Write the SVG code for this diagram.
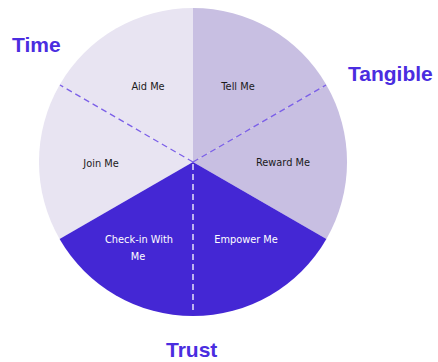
<svg xmlns="http://www.w3.org/2000/svg" width="438" height="362" viewBox="0 0 438 362">
  <style>
    .light { fill: #e8e4f2; }
    .mid { fill: #c8bfe2; }
    .dark { fill: #4427d4; }
    .lbl { font-family: "Liberation Sans", Arial, sans-serif; font-weight: bold; font-size: 21px; fill: #4a2de0; }
    .sl { font-family: "DejaVu Sans", "Liberation Sans", sans-serif; font-size: 9.8px; text-anchor: middle; }
    .sl-d { fill: #1a1a1a; }
    .sl-w { fill: #ffffff; }
    .dash-p { stroke: #7b5fe8; stroke-width: 1.3; stroke-dasharray: 6 4; fill: none; }
    .dash-w { stroke: #ffffff; stroke-width: 1.3; stroke-dasharray: 6 4; fill: none; }
  </style>
  <rect width="438" height="362" fill="#ffffff"/>
  <g id="slice-aid-me">
    <path class="light" d="M193 162 L193 8 A154 154 0 0 0 59.6 85 Z"/>
    <text class="sl sl-d" x="148" y="90">Aid Me</text>
  </g>
  <g id="slice-join-me">
    <path class="light" d="M193 162 L59.6 85 A154 154 0 0 0 59.6 239 Z"/>
    <text class="sl sl-d" x="101" y="167">Join Me</text>
  </g>
  <g id="slice-tell-me">
    <path class="mid" d="M193 162 L326.4 85 A154 154 0 0 0 193 8 Z"/>
    <text class="sl sl-d" x="238" y="90">Tell Me</text>
  </g>
  <g id="slice-reward-me">
    <path class="mid" d="M193 162 L326.4 239 A154 154 0 0 0 326.4 85 Z"/>
    <text class="sl sl-d" x="283" y="166">Reward Me</text>
  </g>
  <g id="slice-check-in">
    <path class="dark" d="M193 162 L59.6 239 A154 154 0 0 0 193 316 Z"/>
    <text class="sl sl-w" x="139" y="243">Check-in With</text>
    <text class="sl sl-w" x="138" y="260">Me</text>
  </g>
  <g id="slice-empower-me">
    <path class="dark" d="M193 162 L193 316 A154 154 0 0 0 326.4 239 Z"/>
    <text class="sl sl-w" x="246" y="243">Empower Me</text>
  </g>
  <g id="connectors">
    <line class="dash-p" x1="193" y1="162" x2="60" y2="85"/>
    <line class="dash-p" x1="193" y1="162" x2="326" y2="85"/>
    <line class="dash-w" x1="193" y1="164" x2="193" y2="310"/>
  </g>
  <g id="label-time"><text class="lbl" x="12" y="52">Time</text></g>
  <g id="label-tangible"><text class="lbl" x="348" y="81">Tangible</text></g>
  <g id="label-trust"><text class="lbl" x="166" y="357">Trust</text></g>
</svg>
